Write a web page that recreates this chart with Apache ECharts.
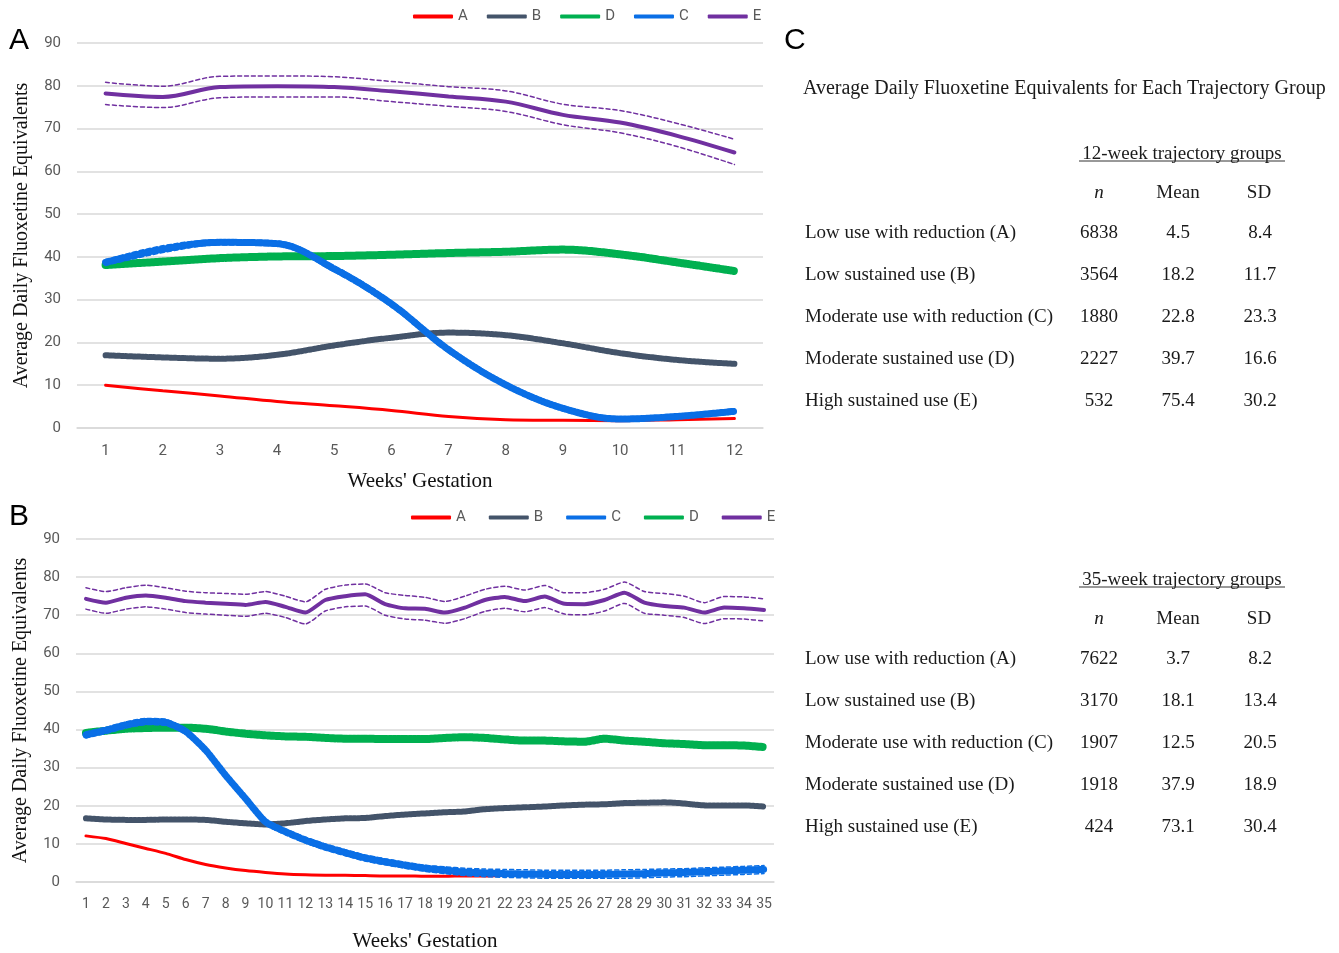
<!DOCTYPE html>
<html>
<head>
<meta charset="utf-8">
<title>Fluoxetine trajectories</title>
<script src="https://cdn.jsdelivr.net/npm/echarts@6/dist/echarts.min.js"></script>
<style>
  html, body { margin: 0; padding: 0; background: #fff; }
  #main { width: 1339px; height: 953px; }
</style>
</head>
<body>
<div id="main"></div>
<script>
// ---- panel A: 12 week trajectories ----
const weeks12 = ['1', '2', '3', '4', '5', '6', '7', '8', '9', '10', '11', '12']
const topA = [10.0, 8.7, 7.5, 6.2, 5.2, 4.1, 2.7, 1.95, 1.8, 1.7, 1.95, 2.2]
const topB = [17.0, 16.5, 16.2, 17.1, 19.3, 21.1, 22.3, 21.7, 19.8, 17.5, 15.9, 15.0]
const topC = [38.7, 41.8, 43.4, 43.1, 37.2, 29.0, 18.3, 10.1, 4.6, 2.1, 2.7, 3.9]
const topCup = [39.4, 42.6, 44.0, 43.7, 37.9, 29.7, 19.0, 10.7, 5.2, 2.6, 3.2, 4.5]
const topClo = [38.0, 41.0, 42.8, 42.5, 36.5, 28.3, 17.6, 9.5, 4.0, 1.6, 2.2, 3.3]
const topD = [38.1, 38.9, 39.7, 40.1, 40.2, 40.5, 40.9, 41.2, 41.7, 40.6, 38.7, 36.7]
const topE = [78.2, 77.4, 79.7, 79.9, 79.7, 78.7, 77.5, 76.3, 73.2, 71.4, 68.3, 64.4]
const topEup = [80.8, 79.9, 82.2, 82.3, 82.1, 81.0, 79.8, 78.8, 75.7, 74.2, 71.2, 67.5]
const topElo = [75.6, 74.9, 77.2, 77.4, 77.4, 76.3, 75.2, 74.0, 70.9, 69.0, 65.8, 61.6]

// ---- panel B: 35 week trajectories ----
const weeks35 = ['1', '2', '3', '4', '5', '6', '7', '8', '9', '10', '11', '12', '13', '14', '15', '16', '17', '18',
  '19', '20', '21', '22', '23', '24', '25', '26', '27', '28', '29', '30', '31', '32', '33', '34', '35']
const botA = [12.1, 11.4, 10.1, 8.8, 7.5, 5.9, 4.6, 3.7, 3.0, 2.5, 2.1, 1.9, 1.8, 1.8, 1.7, 1.6, 1.6, 1.5,
  1.5, 1.6, 1.6, 1.7, 1.7, 1.8, 1.9, 2.0, 2.1, 2.2, 2.3, 2.5, 2.7, 2.9, 3.1, 3.3, 3.5]
const botB = [16.7, 16.4, 16.3, 16.3, 16.4, 16.4, 16.3, 15.8, 15.4, 15.1, 15.4, 16.0, 16.4, 16.7, 16.8, 17.3, 17.7, 18.0,
  18.3, 18.5, 19.1, 19.4, 19.6, 19.8, 20.1, 20.3, 20.4, 20.7, 20.8, 20.9, 20.6, 20.1, 20.1, 20.1, 19.8]
const botC = [38.6, 39.8, 41.2, 42.1, 41.9, 39.5, 34.6, 28.0, 21.9, 15.8, 13.2, 11.0, 9.2, 7.7, 6.3, 5.3, 4.4, 3.6,
  3.1, 2.6, 2.4, 2.2, 2.1, 2.0, 2.0, 2.0, 2.0, 2.1, 2.2, 2.4, 2.5, 2.7, 2.9, 3.1, 3.3]
const botCup = [39.4, 40.6, 42.0, 42.9, 42.7, 40.3, 35.4, 28.8, 22.7, 16.6, 14.0, 11.8, 10.0, 8.5, 7.1, 6.1, 5.2, 4.4,
  4.0, 3.6, 3.4, 3.3, 3.2, 3.1, 3.1, 3.1, 3.1, 3.2, 3.3, 3.4, 3.5, 3.7, 3.9, 4.1, 4.3]
const botClo = [37.8, 39.0, 40.4, 41.3, 41.1, 38.7, 33.8, 27.2, 21.1, 15.0, 12.4, 10.2, 8.4, 6.9, 5.5, 4.5, 3.6, 2.8,
  2.2, 1.7, 1.4, 1.2, 1.1, 1.0, 1.0, 1.0, 1.0, 1.0, 1.1, 1.3, 1.4, 1.6, 1.8, 2.0, 2.2]
const botD = [39.1, 39.7, 40.2, 40.4, 40.5, 40.5, 40.2, 39.5, 38.9, 38.5, 38.2, 38.1, 37.8, 37.6, 37.6, 37.5, 37.5, 37.5,
  37.8, 38.0, 37.8, 37.4, 37.1, 37.1, 36.9, 36.8, 37.6, 37.1, 36.8, 36.4, 36.2, 35.9, 35.9, 35.8, 35.4]
const botE = [74.3, 73.3, 74.6, 75.2, 74.6, 73.7, 73.3, 73.0, 72.7, 73.5, 72.2, 70.7, 74.0, 75.0, 75.5, 72.9, 71.8, 71.7,
  70.7, 72.0, 74.0, 74.8, 73.7, 74.9, 73.0, 72.9, 74.0, 75.9, 73.3, 72.4, 72.0, 70.7, 72.0, 71.8, 71.4]
const botEup = [77.2, 76.2, 77.2, 77.9, 77.2, 76.3, 75.9, 75.7, 75.5, 76.2, 75.0, 73.5, 76.8, 77.9, 78.2, 75.9, 75.2, 74.7,
  73.6, 75.0, 76.8, 77.6, 76.6, 77.8, 75.9, 75.9, 76.8, 78.7, 76.2, 75.7, 75.0, 73.3, 74.9, 74.8, 74.3]
const botElo = [71.6, 70.5, 71.6, 72.2, 71.6, 70.7, 70.3, 70.0, 69.7, 70.5, 69.4, 67.7, 71.1, 72.2, 72.4, 70.0, 69.0, 68.7,
  67.9, 69.1, 71.0, 71.8, 70.9, 72.0, 70.3, 70.1, 71.1, 73.1, 70.5, 70.0, 69.4, 67.8, 69.1, 69.0, 68.5]

// ---- panel C: table ----
const tableTitle = 'Average Daily Fluoxetine Equivalents for Each Trajectory Group'
const tableHeads = ['12-week trajectory groups', '35-week trajectory groups']
const colHeads = ['n', 'Mean', 'SD']
const rowLabels = ['Low use with reduction (A)', 'Low sustained use (B)', 'Moderate use with reduction (C)',
  'Moderate sustained use (D)', 'High sustained use (E)']
const n12 = ['6838', '3564', '1880', '2227', '532']
const mean12 = ['4.5', '18.2', '22.8', '39.7', '75.4']
const sd12 = ['8.4', '11.7', '23.3', '16.6', '30.2']
const n35 = ['7622', '3170', '1907', '1918', '424']
const mean35 = ['3.7', '18.1', '12.5', '37.9', '73.1']
const sd35 = ['8.2', '13.4', '20.5', '18.9', '30.4']

const colors = { A: '#ff0000', B: '#44546a', C: '#0a6fe6', D: '#00b050', E: '#7030a0' }
const narrow = "Roboto, 'Open Sans', sans-serif"
const serif = "'Liberation Serif', 'DejaVu Serif', serif"

function line(name, data, idx, color, width, type, z, smooth) {
  return {
    name: name,
    type: 'line',
    xAxisIndex: idx,
    yAxisIndex: idx,
    data: data,
    symbol: 'none',
    smooth: smooth,
    z: z,
    itemStyle: { color: color },
    lineStyle: { color: color, width: width, type: type, cap: 'round' }
  }
}

function panelSeries(idx, d, sm) {
  return [
    line('D band', d.D, idx, colors.D, 8, [2, 2], 2, sm),
    line('D', d.D, idx, colors.D, 4, 'solid', 3, sm),
    line('B band', d.B, idx, colors.B, 6, [2, 2], 2, sm),
    line('B', d.B, idx, colors.B, 4, 'solid', 3, sm),
    line('A', d.A, idx, colors.A, 3, 'solid', 4, sm),
    line('C band', d.C, idx, colors.C, 7, [2, 2], 5, sm),
    line('C', d.C, idx, colors.C, 4, 'solid', 6, sm),
    line('C upper', d.Cup, idx, colors.C, 1.5, [4, 3], 6, sm),
    line('C lower', d.Clo, idx, colors.C, 1.5, [4, 3], 6, sm),
    line('E', d.E, idx, colors.E, 4, 'solid', 6, sm),
    line('E upper', d.Eup, idx, colors.E, 1.5, [4, 3], 6, sm),
    line('E lower', d.Elo, idx, colors.E, 1.5, [4, 3], 6, sm)
  ]
}

function xAxis(idx, cats, size, margin, gap) {
  return {
    type: 'category',
    gridIndex: idx,
    data: cats,
    axisTick: { show: false },
    axisLine: { lineStyle: { color: '#d9d9d9', width: 1.5 } },
    axisLabel: { color: '#595959', fontSize: size, fontFamily: narrow, margin: margin, interval: 0 },
    name: "Weeks' Gestation",
    nameLocation: 'middle',
    nameGap: gap,
    nameTextStyle: { color: '#111', fontSize: 21, fontFamily: serif }
  }
}

function yAxis(idx) {
  return {
    type: 'value',
    gridIndex: idx,
    min: 0,
    max: 90,
    interval: 10,
    axisLine: { show: false },
    axisTick: { show: false },
    splitLine: { lineStyle: { color: '#d9d9d9', width: 1.5 } },
    axisLabel: { color: '#595959', fontSize: 15, fontFamily: narrow, margin: 16 },
    name: 'Average Daily Fluoxetine Equivalents',
    nameLocation: 'middle',
    nameGap: 45,
    nameTextStyle: { color: '#111', fontSize: 20, fontFamily: serif }
  }
}

// table drawn as graphic text
function txt(text, x, y, align, extra) {
  return {
    type: 'text',
    x: x,
    y: y,
    style: Object.assign({
      text: text,
      fill: '#1a1a1a',
      font: '19px ' + serif,
      align: align,
      verticalAlign: 'middle'
    }, extra || {})
  }
}

function tableBlock(head, headY, n, mean, sd) {
  const out = []
  out.push(txt(head, 1182, headY + 2, 'center'))
  out.push({ type: 'line', shape: { x1: 1079, y1: headY + 9, x2: 1285, y2: headY + 9 }, style: { stroke: '#333', lineWidth: 1 } })
  out.push(txt(colHeads[0], 1099, headY + 41, 'center', { font: 'italic 19px ' + serif }))
  out.push(txt(colHeads[1], 1178, headY + 41, 'center'))
  out.push(txt(colHeads[2], 1259, headY + 41, 'center'))
  rowLabels.forEach((lab, i) => {
    const y = headY + 81 + i * 42
    out.push(txt(lab, 805, y, 'left'))
    out.push(txt(n[i], 1099, y, 'center'))
    out.push(txt(mean[i], 1178, y, 'center'))
    out.push(txt(sd[i], 1260, y, 'center'))
  })
  return out
}

const letterFont = '30px "Liberation Sans", sans-serif'

const chart = echarts.init(document.getElementById('main'))
chart.setOption({
  animation: false,
  backgroundColor: '#fff',
  grid: [
    { left: 77, top: 43, width: 686, height: 385, outerBoundsMode: 'none' },
    { left: 76, top: 539, width: 698, height: 343, outerBoundsMode: 'none' }
  ],
  legend: [
    {
      left: 408, top: 4, data: ['A', 'B', 'D', 'C', 'E'],
      icon: 'roundRect', itemWidth: 40, itemHeight: 4, itemGap: 19,
      textStyle: { color: '#595959', fontSize: 15, fontFamily: narrow }
    },
    {
      left: 406, top: 505, data: ['A', 'B', 'C', 'D', 'E'],
      icon: 'roundRect', itemWidth: 40, itemHeight: 4, itemGap: 23,
      textStyle: { color: '#595959', fontSize: 15, fontFamily: narrow }
    }
  ],
  xAxis: [xAxis(0, weeks12, 15, 16, 43), xAxis(1, weeks35, 14, 15, 49)],
  yAxis: [yAxis(0), yAxis(1)],
  series: panelSeries(0, { A: topA, B: topB, C: topC, Cup: topCup, Clo: topClo, D: topD, E: topE, Eup: topEup, Elo: topElo }, 0.35)
    .concat(panelSeries(1, { A: botA, B: botB, C: botC, Cup: botCup, Clo: botClo, D: botD, E: botE, Eup: botEup, Elo: botElo }, 0.2)),
  graphic: [
    txt('A', 9, 41, 'left', { font: letterFont, fill: '#000' }),
    txt('B', 9, 517, 'left', { font: letterFont, fill: '#000' }),
    txt('C', 784, 41, 'left', { font: letterFont, fill: '#000' }),
    txt(tableTitle, 803, 89, 'left', { font: '20px ' + serif })
  ].concat(tableBlock(tableHeads[0], 152, n12, mean12, sd12))
    .concat(tableBlock(tableHeads[1], 578, n35, mean35, sd35))
})
</script>
</body>
</html>
